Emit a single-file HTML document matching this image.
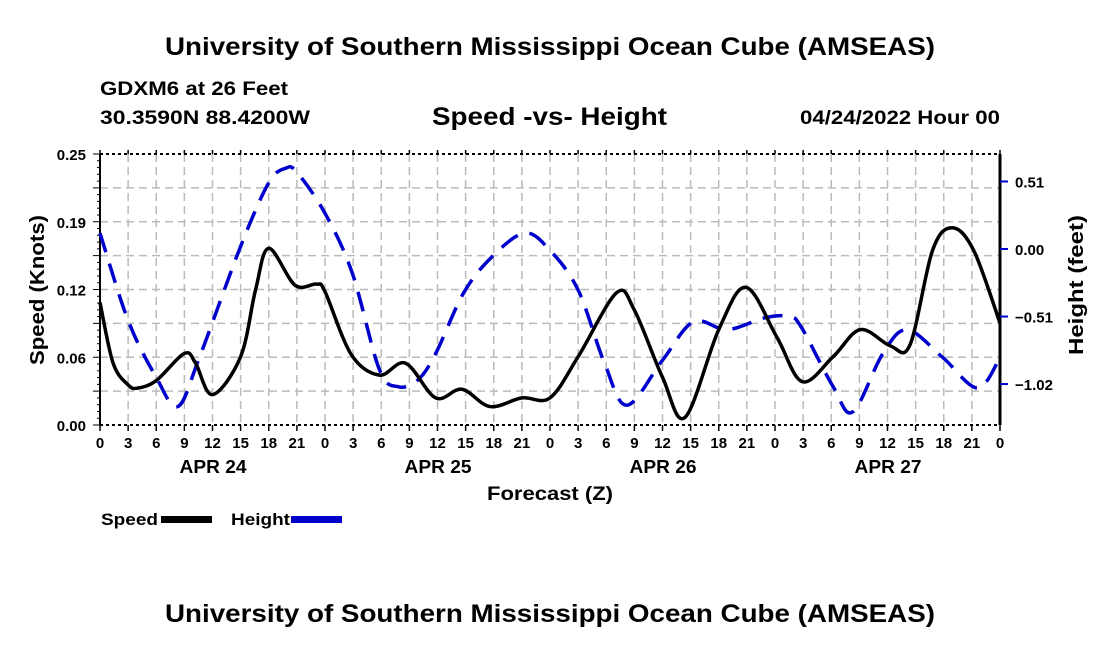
<!DOCTYPE html>
<html><head><meta charset="utf-8"><style>
body{margin:0;background:#fff;}
svg{display:block;font-family:"Liberation Sans",Arial,sans-serif;font-weight:bold;}
</style></head><body>
<svg id="c" width="1100" height="650" viewBox="0 0 1100 650">
<text x="165" y="55" textLength="770" lengthAdjust="spacingAndGlyphs" font-size="25">University of Southern Mississippi Ocean Cube (AMSEAS)</text>
<text x="100" y="95" textLength="188" lengthAdjust="spacingAndGlyphs" font-size="19">GDXM6 at 26 Feet</text>
<text x="100" y="124" textLength="210" lengthAdjust="spacingAndGlyphs" font-size="19">30.3590N  88.4200W</text>
<text x="432" y="125" textLength="235" lengthAdjust="spacingAndGlyphs" font-size="25">Speed -vs- Height</text>
<text x="800" y="124" textLength="200" lengthAdjust="spacingAndGlyphs" font-size="19">04/24/2022 Hour 00</text>
<g id="grid"></g>
<g id="axes"></g>
<g id="series"></g>
<text x="487" y="500" textLength="126" lengthAdjust="spacingAndGlyphs" font-size="19">Forecast (Z)</text>
<text transform="translate(44,290) rotate(-90)" text-anchor="middle" textLength="150" lengthAdjust="spacingAndGlyphs" font-size="20">Speed (Knots)</text>
<text transform="translate(1083,285) rotate(-90)" text-anchor="middle" textLength="140" lengthAdjust="spacingAndGlyphs" font-size="20">Height (feet)</text>
<g>
<text x="101" y="525" textLength="57" lengthAdjust="spacingAndGlyphs" font-size="17">Speed</text>
<rect x="161" y="516" width="51" height="7" fill="#000"/>
<text x="231" y="525" textLength="59" lengthAdjust="spacingAndGlyphs" font-size="17">Height</text>
<rect x="291" y="516" width="51" height="7" fill="#00c"/>
</g>
<text x="165" y="622" textLength="770" lengthAdjust="spacingAndGlyphs" font-size="25">University of Southern Mississippi Ocean Cube (AMSEAS)</text>
</svg>
<script>
const speedHours=[0,1.4,3,4,6,9,10.2,12,15,16.6,18,20.8,23.1,24,26.8,29.8,32.6,35.8,38.6,41.6,45,48,51,55.1,57,60,62.4,66,68.9,72.2,74.9,78.2,81.1,84.3,86.4,88.8,90.9,93.2,96];
const speedValues=[0.113,0.057,0.037,0.034,0.041,0.066,0.057,0.028,0.063,0.125,0.163,0.129,0.130,0.123,0.065,0.046,0.057,0.025,0.033,0.017,0.025,0.025,0.063,0.122,0.106,0.044,0.007,0.088,0.127,0.081,0.040,0.063,0.088,0.073,0.074,0.161,0.182,0.161,0.094];
const heightHours=[0,3,6,8.3,10.6,15,18,19.8,21,24,26.9,29.8,31.8,33.9,35.8,38.8,41.8,45.3,48,51,53.8,56.2,60,63.3,66.9,70.9,73.5,74.8,78.2,80.3,83.5,86.1,89.9,93.6,96];
const heightValues=[0.12,-0.54,-0.97,-1.19,-0.82,0.02,0.50,0.61,0.58,0.27,-0.18,-0.91,-1.04,-0.99,-0.79,-0.33,-0.06,0.12,-0.01,-0.31,-0.86,-1.18,-0.84,-0.55,-0.61,-0.52,-0.51,-0.59,-1.04,-1.23,-0.79,-0.61,-0.82,-1.05,-0.82];
const speedTicks=[0,0.0625,0.125,0.1875,0.25];
const speedTickLabels=["0.00","0.06","0.12","0.19","0.25"];
const heightTicks=[0.51,0,-0.51,-1.02];
const heightTickLabels=["0.51","0.00","\u22120.51","\u22121.02"];
const xTickLabels=["0","3","6","9","12","15","18","21"];
const dayLabels=["APR 24","APR 25","APR 26","APR 27"];

const L=100,R=1000,T=154,B=425;
const NS="http://www.w3.org/2000/svg";
const x=h=>L+(h/96)*(R-L);
const yS=v=>B-(v/0.25)*(B-T);
const yH=v=>249-v*132.4;
function mk(tag,attrs,parent){const e=document.createElementNS(NS,tag);for(const k in attrs)e.setAttribute(k,attrs[k]);parent.appendChild(e);return e;}
const grid=document.getElementById('grid'),axes=document.getElementById('axes'),series=document.getElementById('series');
mk('rect',{x:L,y:T,width:R-L,height:B-T,fill:'#fff'},grid);
for(let h=3;h<96;h+=3){const l=mk('line',{x1:x(h),x2:x(h),y1:T,y2:B,stroke:'#bbb','stroke-width':1.5,'stroke-dasharray':'8,5'},grid);

}
for(let i=1;i<8;i++){const v=i*0.03125;const l=mk('line',{x1:L,x2:R,y1:yS(v),y2:yS(v),stroke:'#bbb','stroke-width':1.5,'stroke-dasharray':'8,5'},grid);

}
mk('line',{x1:L,x2:R,y1:T,y2:T,stroke:'#000','stroke-width':2,'stroke-dasharray':'3,3'},axes);
mk('line',{x1:L,x2:R,y1:B,y2:B,stroke:'#000','stroke-width':2,'stroke-dasharray':'3,3'},axes);
mk('line',{x1:L,x2:L,y1:T,y2:B,stroke:'#000','stroke-width':2},axes);
mk('line',{x1:R,x2:R,y1:T,y2:B,stroke:'#000','stroke-width':3},axes);
for(let i=0;i<=40;i++){const yy=T+i*(B-T)/40;mk('line',{x1:L-(i%5==0?7:3),x2:L,y1:yy,y2:yy,stroke:'#000','stroke-width':1},axes);}
speedTicks.forEach((v,i)=>{const t=mk('text',{x:L-14,y:yS(v)+6,'text-anchor':'end','font-size':15},axes);t.textContent=speedTickLabels[i];

});
heightTicks.forEach((v,i)=>{mk('line',{x1:R,x2:R+8,y1:yH(v),y2:yH(v),stroke:'#00c','stroke-width':2},axes);
const t=mk('text',{x:R+15,y:yH(v)+6,'font-size':15},axes);t.textContent=heightTickLabels[i];

});
for(let h=0;h<=96;h+=3){mk('line',{x1:x(h),x2:x(h),y1:B,y2:B+6,stroke:'#000','stroke-width':1.5},axes);
mk('line',{x1:x(h),x2:x(h),y1:T-4,y2:T,stroke:'#000','stroke-width':1.5},axes);
const t=mk('text',{x:x(h),y:B+23,'text-anchor':'middle','font-size':15},axes);t.textContent=xTickLabels[(h/3)%8];

}
dayLabels.forEach((d,i)=>{const t=mk('text',{x:x(i*24+12)-33,y:B+48,'font-size':18,textLength:67,lengthAdjust:'spacingAndGlyphs'},axes);t.textContent=d;

});
function smooth(pts){let d=`M${pts[0][0]},${pts[0][1]}`;
for(let i=0;i<pts.length-1;i++){const p0=pts[Math.max(0,i-1)],p1=pts[i],p2=pts[i+1],p3=pts[Math.min(pts.length-1,i+2)];
d+=` C${p1[0]+(p2[0]-p0[0])/6},${p1[1]+(p2[1]-p0[1])/6} ${p2[0]-(p3[0]-p1[0])/6},${p2[1]-(p3[1]-p1[1])/6} ${p2[0]},${p2[1]}`;}return d;}
const hp=mk('path',{d:smooth(heightHours.map((h,i)=>[x(h),yH(heightValues[i])])),fill:'none',stroke:'#00c','stroke-width':3.5,'stroke-dasharray':'20,12'},series);


const sp=mk('path',{d:smooth(speedHours.map((h,i)=>[x(h),yS(speedValues[i])])),fill:'none',stroke:'#000','stroke-width':3.5},series);


</script>
</body></html>
